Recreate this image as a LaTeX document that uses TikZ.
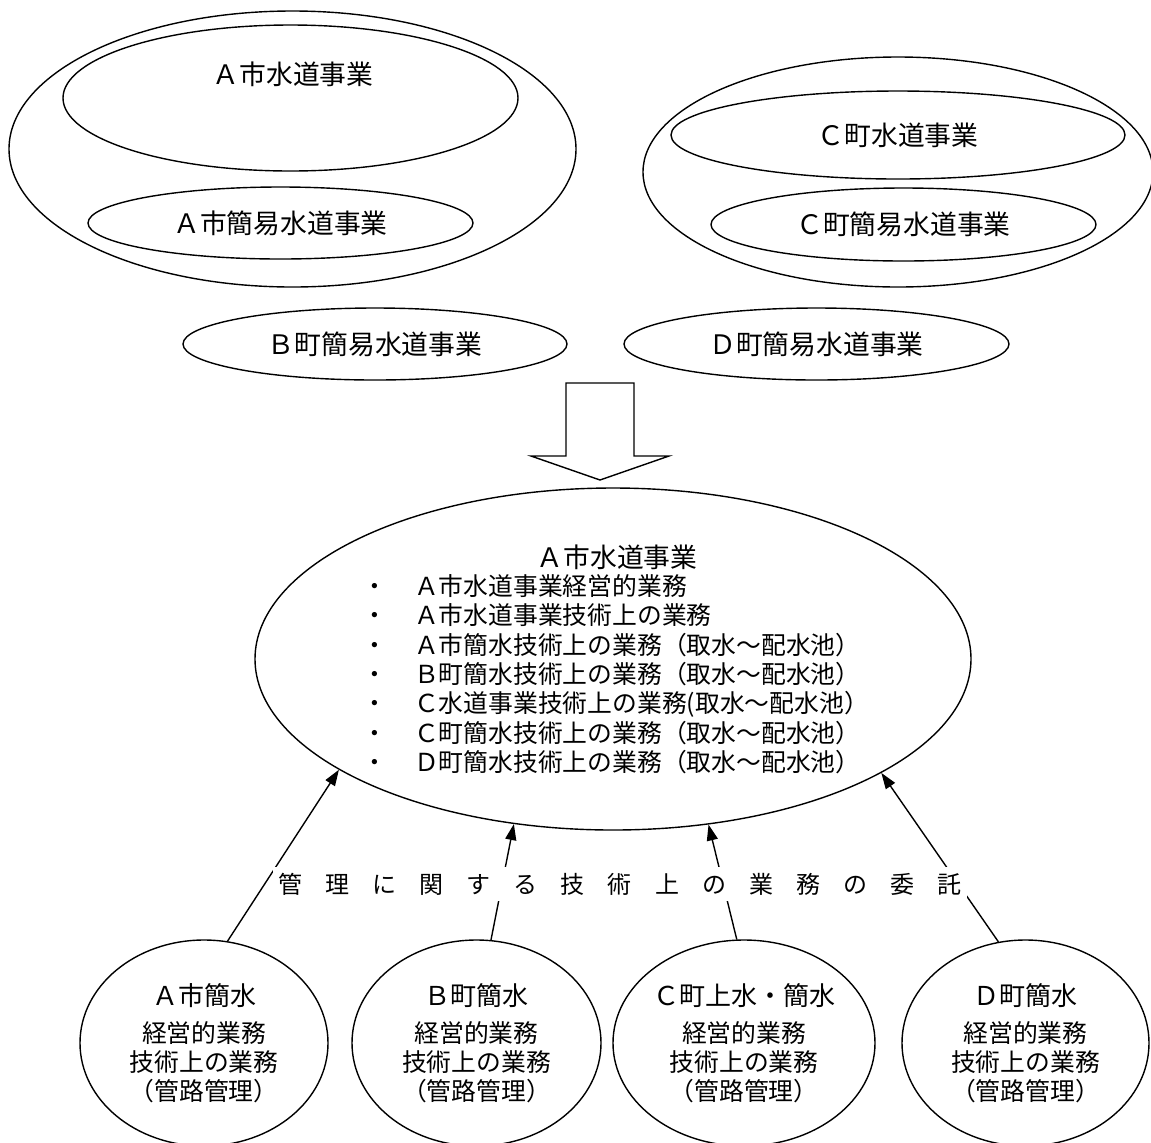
\documentclass[tikz,border=0pt]{standalone}
\usepackage{fontspec}
\setmainfont{Noto Sans CJK JP}
\newfontfamily\widefont[LetterSpace=96]{Noto Sans CJK JP}
\usetikzlibrary{shapes.geometric,arrows.meta}
\tikzset{
	oval/.style={draw, ellipse, line width=0.7pt, inner sep=0pt},
	wh/.style 2 args={minimum width=#1*0.5pt, minimum height=#2*0.5pt},
	big/.style={font=\fontsize{13.4}{16}\selectfont},
	small/.style={font=\fontsize{12.4}{14.5}\selectfont, align=center},
	tip/.style={-{Triangle[length=8pt,width=5.5pt]}, line width=0.7pt}
}

\begin{document}
\begin{tikzpicture}[x=0.5pt, y=-0.5pt]
			%%%%% START %%%%%
			\useasboundingbox (0, 0) rectangle (1151, 1142);
			
			\node[oval, wh={567}{276}] (outA) at (292.5, 149) {};
			\node[oval, wh={455}{146}] (inA) at (290.5, 98) {};
			\node[big] (tA) at (293, 74) {Ａ市水道事業};
			\node[oval, big, wh={385}{72}] (kanA) at (280.5, 223) {Ａ市簡易水道事業};
			
			\node[oval, wh={510}{230}] (outC) at (898, 172) {};
			\node[oval, big, wh={454}{88}] (suiC) at (898, 135) {Ｃ町水道事業};
			\node[oval, big, wh={385}{73}] (kanC) at (903.5, 224.5) {Ｃ町簡易水道事業};
			
			\node[oval, big, wh={384}{72}] (kanB) at (375, 344) {Ｂ町簡易水道事業};
			\node[oval, big, wh={385}{72}] (kanD) at (816.5, 344) {Ｄ町簡易水道事業};
			
			\draw[line width=0.7pt] (566, 383) -- (634, 383) -- (634, 456) -- (669, 456) -- (600, 480) -- (531, 456) -- (566, 456) -- cycle;
			
			\node[oval, wh={716}{342}] (main) at (613, 659) {};
			\node[big] (tMain) at (617, 557) {Ａ市水道事業};
			\node[anchor=north west, inner sep=0pt, align=left, font=\fontsize{12.4}{14.7}\selectfont] (jobs) at (362, 574) {%
				・\hspace{13.5pt}Ａ市水道事業経営的業務\\
				・\hspace{13.5pt}Ａ市水道事業技術上の業務\\
				・\hspace{13.5pt}Ａ市簡水技術上の業務（取水～配水池）\\
				・\hspace{13.5pt}Ｂ町簡水技術上の業務（取水～配水池）\\
				・\hspace{13.5pt}Ｃ水道事業技術上の業務(取水～配水池）\\
				・\hspace{13.5pt}Ｃ町簡水技術上の業務（取水～配水池）\\
				・\hspace{13.5pt}Ｄ町簡水技術上の業務（取水～配水池）};
			
			\node[oval, small, wh={248}{206}] (sA) at (204, 1043) {{\fontsize{13}{15}\selectfont Ａ市簡水}\\[4pt]経営的業務\\技術上の業務\\（管路管理）};
			\node[oval, small, wh={249}{206}] (sB) at (476.5, 1043) {{\fontsize{13}{15}\selectfont Ｂ町簡水}\\[4pt]経営的業務\\技術上の業務\\（管路管理）};
			\node[oval, small, wh={262}{206}] (sC) at (744, 1043) {{\fontsize{13}{15}\selectfont Ｃ町上水・簡水}\\[4pt]経営的業務\\技術上の業務\\（管路管理）};
			\node[oval, small, wh={247}{206}] (sD) at (1025.5, 1043) {{\fontsize{13}{15}\selectfont Ｄ町簡水}\\[4pt]経営的業務\\技術上の業務\\（管路管理）};
			
			\draw[tip] (sA.77) -- (main.202);
			\draw[tip] (sB.82.5) -- (main.239.8);
			\draw[tip] (sC.94) -- (main.300.8);
			\draw[tip] (sD.105) -- (main.337.7);
			
			\node[fill=white, inner sep=3pt, font=\widefont\fontsize{12}{14}\selectfont] (deleg) at (620, 884) {管理に関する技術上の業務の委託};
			
			%%%%% END %%%%%
\end{tikzpicture}
\end{document}
